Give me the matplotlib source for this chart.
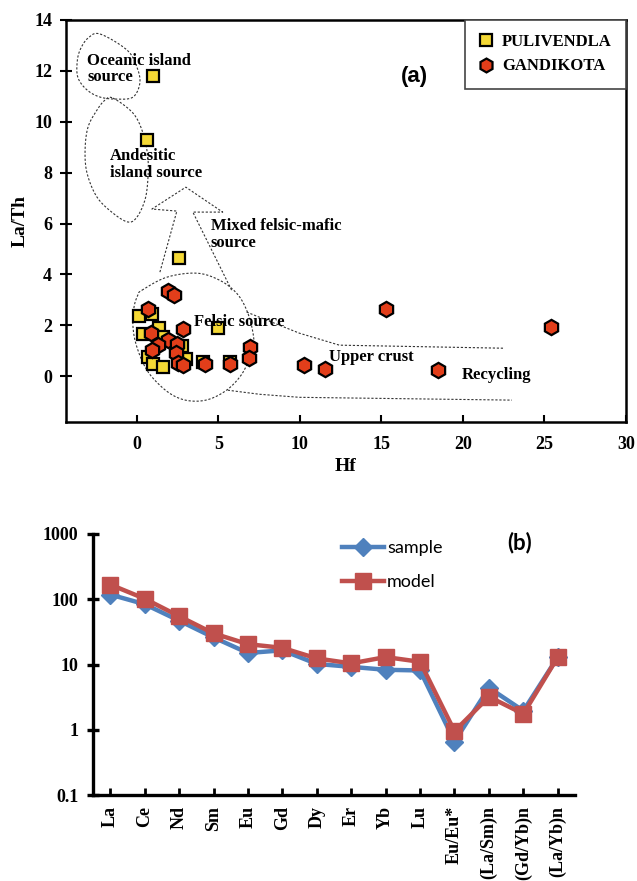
import numpy as np
import matplotlib.pyplot as plt
from matplotlib.lines import Line2D
from matplotlib.ticker import FixedLocator, FixedFormatter, NullLocator

# panel (a): La/Th vs Hf
pul_hf = [1.0, 0.6, 2.6, 0.15, 0.95, 1.35, 0.35, 1.6, 5.0, 2.75, 0.7, 1.0, 1.6, 3.0, 4.05, 5.7]
pul_lath = [11.8, 9.3, 4.65, 2.35, 2.45, 1.9, 1.65, 1.55, 1.9, 1.2, 0.75, 0.48, 0.35, 0.68, 0.55, 0.55]
gan_hf = [1.9, 2.3, 0.7, 2.8, 0.85, 1.9, 2.45, 1.3, 0.95, 2.4, 2.55, 2.85, 4.2, 5.7,
          6.95, 6.85, 10.25, 11.55, 15.3, 18.45, 25.4]
gan_lath = [3.35, 3.2, 2.65, 1.87, 1.7, 1.42, 1.27, 1.22, 1.02, 0.9, 0.52, 0.43, 0.47, 0.47,
            1.13, 0.7, 0.43, 0.3, 2.65, 0.24, 1.95]

# source field outlines (Hf, La/Th)
oceanic_x = [-2.26, -0.61, 0.0, 0.18, -0.24, -1.22, -2.26, -3.06, -3.61, -3.67, -3.49, -3.0]
oceanic_y = [13.45, 12.82, 12.15, 11.52, 10.97, 10.89, 10.97, 11.25, 11.72, 12.31, 12.82, 13.29]
andesitic_x = [-1.47, -0.24, 0.37, 0.67, 0.67, 0.49, 0.0, -0.55, -1.47, -2.45, -3.06, -3.18, -3.0, -2.45, -1.96]
andesitic_y = [10.93, 10.34, 9.56, 8.61, 7.71, 6.92, 6.25, 6.06, 6.41, 7.04, 7.98, 8.89, 9.79, 10.46, 10.85]
felsic_x = [0.31, 1.83, 3.67, 5.08, 6.12, 6.73, 7.09, 7.16, 6.79, 6.30, 5.50, 4.46, 3.43, 2.45, 1.53, 0.61, 0.0, -0.24, -0.18, 0.06]
felsic_y = [3.38, 3.89, 4.05, 3.77, 3.26, 2.60, 1.81, 1.14, 0.51, -0.04, -0.55, -0.90, -0.98, -0.83, -0.43, 0.24, 1.14, 1.93, 2.71, 3.19]
arrow_x = [1.41, 2.45, 0.92, 3.0, 5.26, 3.43, 5.81]
arrow_y = [4.09, 6.49, 6.57, 7.43, 6.45, 6.45, 3.38]
upper_x = [6.73, 9.97, 12.42, 22.5]
upper_y = [2.52, 1.69, 1.22, 1.10]
lower_x = [5.57, 7.52, 9.97, 23.0]
lower_y = [-0.55, -0.71, -0.83, -0.94]

# panel (b)
elements = ['La', 'Ce', 'Nd', 'Sm', 'Eu', 'Gd', 'Dy', 'Er', 'Yb', 'Lu',
            'Eu/Eu*', '(La/Sm)n', '(Gd/Yb)n', '(La/Yb)n']
sample = [118, 84, 47, 26, 15, 16.5, 10.2, 9.2, 8.3, 8.1, 0.66, 4.4, 1.95, 13]
model = [168, 102, 55, 30, 20.5, 18, 12.4, 10.4, 13, 11, 0.95, 3.2, 1.75, 13]

serif = 'Liberation Serif'


def smooth_closed(xs, ys, n=20):
    # periodic Catmull-Rom through the outline points
    p = np.column_stack([xs, ys])
    m = len(p)
    out = []
    for i in range(m):
        p0, p1, p2, p3 = p[i - 1], p[i], p[(i + 1) % m], p[(i + 2) % m]
        for t in np.linspace(0, 1, n, endpoint=False):
            out.append(0.5 * (2 * p1 + (-p0 + p2) * t + (2 * p0 - 5 * p1 + 4 * p2 - p3) * t ** 2
                              + (-p0 + 3 * p1 - 3 * p2 + p3) * t ** 3))
    out.append(out[0])
    out = np.array(out)
    return out[:, 0], out[:, 1]


fig = plt.figure(figsize=(6.37, 8.81), dpi=100)

# ---------------- panel (a) ----------------
ax = fig.add_axes([66 / 637, 1 - 422 / 881, 560 / 637, 402 / 881])
dot = dict(color='#333333', lw=0.8, ls=(0, (2, 1.6)))
for xs, ys in [(oceanic_x, oceanic_y), (andesitic_x, andesitic_y), (felsic_x, felsic_y)]:
    sx, sy = smooth_closed(xs, ys)
    ax.plot(sx, sy, **dot)
ax.plot(arrow_x, arrow_y, **dot)
ax.plot(upper_x, upper_y, **dot)
ax.plot(lower_x, lower_y, **dot)

ax.plot(pul_hf, pul_lath, ls='none', marker='s', ms=9, mfc='#F4D835', mec='black', mew=1.6)
ax.plot(gan_hf, gan_lath, ls='none', marker='h', ms=11, mfc='#E23E1A', mec='black', mew=1.6)

ax.set_xlim(-4.35, 30)
ax.set_ylim(-1.8, 14)
ax.set_xticks(range(0, 31, 5))
ax.set_yticks(range(0, 15, 2))
ax.tick_params(axis='x', direction='in', length=5, width=1.5, pad=10)
ax.tick_params(axis='y', direction='inout', length=8, width=1.5, pad=6)
for lab in ax.get_xticklabels() + ax.get_yticklabels():
    lab.set_fontfamily(serif)
    lab.set_fontweight('bold')
    lab.set_fontsize(13)
for s in ax.spines.values():
    s.set_linewidth(1.8)
ax.set_xlabel('Hf', fontfamily=serif, fontweight='bold', fontsize=14, labelpad=4)
ax.set_ylabel('La/Th', fontfamily=serif, fontweight='bold', fontsize=14, labelpad=4)

tkw = dict(fontfamily=serif, fontweight='bold', fontsize=12, va='center', ha='left', linespacing=1.05)
ax.text(-3.06, 12.07, 'Oceanic island\nsource', **tkw)
ax.text(-1.65, 8.32, 'Andesitic\nisland source', **tkw)
ax.text(4.53, 5.58, 'Mixed felsic-mafic\nsource', **tkw)
ax.text(3.49, 2.12, 'Felsic source', **tkw)
ax.text(11.8, 0.75, 'Upper crust', **tkw)
ax.text(19.9, 0.04, 'Recycling', **tkw)
ax.text(17.0, 11.76, '(a)', fontfamily='Liberation Sans', fontweight='bold', fontsize=16,
        ha='center', va='center')

handles = [Line2D([], [], ls='none', marker='s', ms=8, mfc='#F4D835', mec='black', mew=1.6),
           Line2D([], [], ls='none', marker='h', ms=10, mfc='#E23E1A', mec='black', mew=1.6)]
leg = ax.legend(handles, ['PULIVENDLA', 'GANDIKOTA'], loc='upper right', bbox_to_anchor=(1, 1),
                borderaxespad=0, fancybox=False, edgecolor='#444444', framealpha=1,
                prop=dict(family=serif, weight='bold', size=12), handlelength=0.8,
                handletextpad=0.55, labelspacing=0.5, borderpad=0.85)
leg.get_frame().set_linewidth(1.2)

# ---------------- panel (b) ----------------
bx = fig.add_axes([93 / 637, 1 - 795 / 881, 482 / 637, 261 / 881])
pos = np.arange(len(elements))
bx.plot(pos, sample, color='#4F81BD', lw=3.2, marker='D', ms=9, mfc='#4F81BD', mec='#4F81BD',
        label='sample')
bx.plot(pos, model, color='#C0504D', lw=3.2, marker='s', ms=11, mfc='#C0504D', mec='#C0504D',
        label='model')
bx.set_yscale('log')
bx.set_ylim(0.1, 1000)
bx.set_xlim(-0.5, len(elements) - 0.5)
bx.yaxis.set_major_locator(FixedLocator([0.1, 1, 10, 100, 1000]))
bx.yaxis.set_major_formatter(FixedFormatter(['0.1', '1', '10', '100', '1000']))
bx.yaxis.set_minor_locator(NullLocator())
bx.set_xticks(pos)
bx.set_xticklabels(elements, rotation=90)
bx.tick_params(axis='x', direction='in', length=5, width=2, pad=8)
bx.tick_params(axis='y', direction='inout', length=9, width=2.4, pad=6)
for lab in bx.get_xticklabels() + bx.get_yticklabels():
    lab.set_fontfamily(serif)
    lab.set_fontweight('bold')
    lab.set_fontsize(13)
bx.spines['top'].set_visible(False)
bx.spines['right'].set_visible(False)
bx.spines['left'].set_linewidth(2.4)
bx.spines['bottom'].set_linewidth(2.4)

bx.legend(loc='upper left', bbox_to_anchor=(342 / 637, 1 - 540 / 881), bbox_transform=fig.transFigure,
          frameon=False, prop=dict(family='Lato', size=13), handlelength=2.3, handletextpad=0.2,
          labelspacing=1.0, borderpad=0, borderaxespad=0)
fig.text(520 / 637, 1 - 543 / 881, '(b)', fontfamily='Lato', fontweight='bold', fontsize=16,
         ha='center', va='center')

fig.savefig('out.png', dpi=100)
